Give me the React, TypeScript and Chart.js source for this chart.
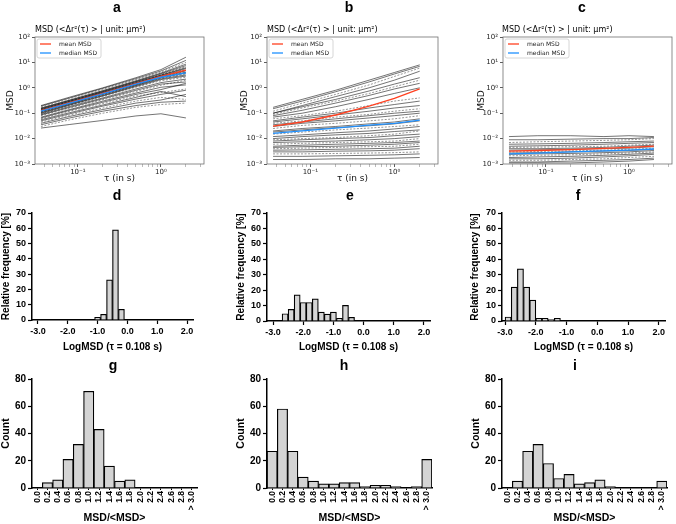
import React, { useEffect, useRef } from 'react';
import { Chart, registerables } from 'chart.js';
Chart.register(...registerables);

// ---------------- data ----------------
const TAU = [0.036, 0.08, 0.2, 0.5, 1.0, 2.0];
const MSD_X_TICKS = [0.04, 0.05, 0.06, 0.07, 0.08, 0.09, 0.1, 0.2, 0.3, 0.4, 0.5, 0.6, 0.7, 0.8, 0.9, 1, 2, 3];
const MSD_X_LABEL_VALUES = [0.1, 1];
const MSD_X_LABELS = ['10⁻¹', '10⁰'];
const MSD_Y_TICKS = [0.001, 0.01, 0.1, 1, 10, 100];
const MSD_Y_LABELS = ['10⁻³', '10⁻²', '10⁻¹', '10⁰', '10¹', '10²'];

const A_MEAN = [0.125, 0.26, 0.6, 1.45, 2.8, 5.0];
const A_MEDIAN = [0.12, 0.25, 0.58, 1.4, 2.6, 3.9];
const A_TRACKS = [
  [0.2, 0.43, 1.0, 2.5, 5.2, 16],
  [0.19, 0.4, 0.95, 2.3, 4.6, 12],
  [0.175, 0.37, 0.88, 2.1, 4.2, 10],
  [0.16, 0.33, 0.78, 1.9, 3.8, 8.5],
  [0.155, 0.32, 0.75, 1.8, 3.6, 7.5],
  [0.15, 0.31, 0.72, 1.75, 3.4, 6.8],
  [0.145, 0.3, 0.7, 1.7, 3.2, 6.2],
  [0.14, 0.29, 0.68, 1.6, 3.1, 5.8],
  [0.135, 0.28, 0.65, 1.55, 3.0, 5.4],
  [0.13, 0.27, 0.63, 1.5, 2.9, 5.0],
  [0.125, 0.26, 0.6, 1.45, 2.8, 4.7],
  [0.12, 0.25, 0.58, 1.4, 2.7, 4.4],
  [0.118, 0.245, 0.57, 1.35, 2.6, 4.1],
  [0.115, 0.24, 0.55, 1.3, 2.5, 3.8],
  [0.11, 0.23, 0.53, 1.25, 2.4, 3.5],
  [0.105, 0.22, 0.5, 1.2, 2.25, 3.2],
  [0.1, 0.21, 0.48, 1.12, 2.1, 2.9],
  [0.095, 0.2, 0.45, 1.05, 1.9, 2.6],
  [0.09, 0.185, 0.4, 0.9, 1.6, 2.2],
  [0.085, 0.17, 0.37, 0.8, 1.4, 1.7],
  [0.08, 0.16, 0.34, 0.72, 1.25, 2.0],
  [0.07, 0.14, 0.3, 0.62, 1.05, 1.3],
  [0.065, 0.13, 0.27, 0.55, 0.85, 1.5],
  [0.06, 0.12, 0.24, 0.48, 0.65, 0.9],
  [0.055, 0.105, 0.21, 0.42, 0.72, 0.45],
  [0.05, 0.095, 0.19, 0.36, 0.55, 0.8],
  [0.045, 0.085, 0.16, 0.3, 0.42, 0.35],
  [0.04, 0.075, 0.14, 0.25, 0.33, 0.55],
  [0.035, 0.065, 0.12, 0.2, 0.27, 0.3],
  [0.03, 0.055, 0.1, 0.17, 0.22, 0.25],
  [0.026, 0.036, 0.052, 0.078, 0.095, 0.065],
];

const B_MEAN = [0.031, 0.045, 0.085, 0.19, 0.38, 0.9];
const B_MEDIAN = [0.016, 0.02, 0.026, 0.034, 0.04, 0.053];
const B_TRACKS = [
  [0.17, 0.35, 0.8, 2.0, 4.0, 8.0],
  [0.15, 0.3, 0.7, 1.7, 3.5, 7.0],
  [0.12, 0.25, 0.55, 1.3, 2.8, 6.0],
  [0.1, 0.2, 0.45, 1.0, 2.0, 4.5],
  [0.1, 0.18, 0.35, 0.75, 1.4, 2.5],
  [0.09, 0.16, 0.3, 0.6, 1.1, 2.0],
  [0.08, 0.13, 0.25, 0.5, 0.9, 1.5],
  [0.07, 0.1, 0.18, 0.35, 0.6, 1.0],
  [0.06, 0.08, 0.12, 0.2, 0.3, 0.4],
  [0.05, 0.07, 0.1, 0.16, 0.22, 0.3],
  [0.045, 0.06, 0.085, 0.12, 0.16, 0.2],
  [0.04, 0.05, 0.07, 0.09, 0.12, 0.15],
  [0.035, 0.045, 0.06, 0.08, 0.1, 0.12],
  [0.03, 0.04, 0.05, 0.065, 0.08, 0.1],
  [0.025, 0.033, 0.04, 0.05, 0.06, 0.08],
  [0.02, 0.025, 0.03, 0.038, 0.045, 0.06],
  [0.018, 0.022, 0.027, 0.032, 0.038, 0.05],
  [0.015, 0.018, 0.022, 0.026, 0.03, 0.035],
  [0.012, 0.014, 0.017, 0.02, 0.024, 0.03],
  [0.01, 0.012, 0.014, 0.016, 0.019, 0.022],
  [0.009, 0.01, 0.011, 0.013, 0.015, 0.02],
  [0.008, 0.009, 0.01, 0.011, 0.013, 0.015],
  [0.007, 0.0075, 0.008, 0.009, 0.01, 0.012],
  [0.006, 0.0065, 0.007, 0.0075, 0.008, 0.01],
  [0.005, 0.0055, 0.006, 0.0065, 0.007, 0.008],
  [0.0045, 0.0048, 0.005, 0.0055, 0.006, 0.007],
  [0.004, 0.0042, 0.0045, 0.0048, 0.005, 0.006],
  [0.0035, 0.0036, 0.0038, 0.004, 0.0042, 0.005],
  [0.003, 0.003, 0.0032, 0.0033, 0.0035, 0.004],
  [0.0025, 0.0025, 0.0026, 0.0027, 0.0028, 0.003],
  [0.002, 0.002, 0.0021, 0.0022, 0.0023, 0.0025],
  [0.0015, 0.0015, 0.0016, 0.0016, 0.0017, 0.0018],
];

const C_MEAN = [0.0032, 0.0034, 0.0037, 0.0041, 0.0045, 0.0051];
const C_MEDIAN = [0.0025, 0.0027, 0.003, 0.0033, 0.0035, 0.0039];
const C_TRACKS = [
  [0.012, 0.013, 0.013, 0.012, 0.013, 0.012],
  [0.009, 0.009, 0.0095, 0.01, 0.01, 0.011],
  [0.007, 0.0075, 0.008, 0.0085, 0.009, 0.01],
  [0.006, 0.0062, 0.0065, 0.007, 0.0075, 0.008],
  [0.005, 0.0052, 0.0055, 0.006, 0.0065, 0.007],
  [0.0045, 0.0046, 0.0048, 0.005, 0.0055, 0.006],
  [0.004, 0.004, 0.0042, 0.0045, 0.005, 0.0055],
  [0.0035, 0.0036, 0.0038, 0.004, 0.0042, 0.0048],
  [0.003, 0.0031, 0.0033, 0.0035, 0.0038, 0.0042],
  [0.0027, 0.0028, 0.003, 0.0032, 0.0034, 0.0038],
  [0.0024, 0.0025, 0.0026, 0.0028, 0.003, 0.0034],
  [0.0021, 0.0022, 0.0023, 0.0025, 0.0027, 0.003],
  [0.0018, 0.0019, 0.002, 0.0022, 0.0024, 0.0027],
  [0.0016, 0.0016, 0.0017, 0.0019, 0.0021, 0.0024],
  [0.0014, 0.0014, 0.0015, 0.0016, 0.0018, 0.002],
  [0.0012, 0.0012, 0.0013, 0.0014, 0.0015, 0.0017],
  [0.0011, 0.0011, 0.0011, 0.0012, 0.0013, 0.0015],
];

const LOG_TICKS = [-3, -2, -1, 0, 1, 2];
const D_BINS = [-1.0, -0.8, -0.6, -0.4, -0.2];
const D_FREQ = [1.7, 3.7, 26.3, 59, 7];
const E_BINS = [-2.6, -2.4, -2.2, -2.0, -1.8, -1.6, -1.4, -1.2, -1.0, -0.8, -0.6, -0.4];
const E_FREQ = [4.7, 7.5, 17, 12, 12, 14.4, 5.8, 4.5, 5.8, 1.7, 10.1, 2.4];
const F_BINS = [-2.9, -2.7, -2.5, -2.3, -2.1, -1.9, -1.7, -1.5, -1.3];
const F_FREQ = [2.6, 22, 33.8, 22, 13.6, 1.7, 1.7, 0.9, 1.7];

const RATIO_LABELS = ['0.0', '0.2', '0.4', '0.6', '0.8', '1.0', '1.2', '1.4', '1.6', '1.8', '2.0', '2.2', '2.4', '2.6', '2.8', '> 3.0'];
const G_COUNT = [0, 4, 6, 21, 32, 71, 43, 16, 5, 6, 0, 0, 0, 0, 0, 0];
const H_COUNT = [27, 58, 27, 8, 5, 3, 3, 4, 4, 1, 2, 2, 1, 0, 1, 21];
const I_COUNT = [0, 5, 27, 32, 18, 7, 10, 3, 4, 6, 1, 0, 0, 0, 0, 5];

// ---------------- helpers ----------------
type Rect = { l: number; t: number; r: number; b: number };
type TextItem = { text: string; x: number; y: number; font: string; align?: CanvasTextAlign };

const SANS = '"Liberation Sans", Arial, sans-serif';
const DEJA = '"DejaVu Sans", sans-serif';
const bold = (size: number) => ({ family: SANS, size, weight: 'bold' as const });

function textPlugin(items: TextItem[]) {
  return {
    id: 'figText',
    afterDraw(chart: any) {
      const ctx = chart.ctx;
      ctx.save();
      items.forEach((it) => {
        ctx.font = it.font;
        ctx.fillStyle = '#000';
        ctx.textAlign = it.align || 'center';
        ctx.textBaseline = 'alphabetic';
        ctx.fillText(it.text, it.x, it.y);
      });
      ctx.restore();
    },
  };
}

const framePlugin = {
  id: 'frame',
  afterDraw(chart: any) {
    const { left, top, right, bottom } = chart.chartArea;
    const ctx = chart.ctx;
    ctx.save();
    ctx.strokeStyle = '#707070';
    ctx.lineWidth = 0.8;
    ctx.strokeRect(left, top, right - left, bottom - top);
    ctx.restore();
  },
};

// inset legend (matplotlib style) for the first two datasets (mean / median)
const insetLegendPlugin = {
  id: 'insetLegend',
  afterDraw(chart: any) {
    const { left, top } = chart.chartArea;
    const ctx = chart.ctx;
    const sets = chart.data.datasets.slice(0, 2);
    ctx.save();
    ctx.font = '6px "DejaVu Sans", sans-serif';
    const textW = Math.max(...sets.map((s: any) => ctx.measureText(s.label).width));
    const bx = left + 2, by = top + 2;
    const bw = 22 + textW + 4, bh = 19;
    ctx.fillStyle = 'rgba(255,255,255,0.85)';
    ctx.strokeStyle = '#cccccc';
    ctx.lineWidth = 0.8;
    ctx.beginPath();
    ctx.roundRect(bx, by, bw, bh, 2);
    ctx.fill();
    ctx.stroke();
    sets.forEach((s: any, k: number) => {
      const y = by + 5 + k * 9;
      ctx.strokeStyle = s.borderColor;
      ctx.lineWidth = 1.3;
      ctx.beginPath();
      ctx.moveTo(bx + 3, y);
      ctx.lineTo(bx + 14, y);
      ctx.stroke();
      ctx.fillStyle = '#222';
      ctx.textAlign = 'left';
      ctx.textBaseline = 'middle';
      ctx.fillText(s.label, bx + 22, y);
    });
    ctx.restore();
  },
};

function fixSize(size: number, horizontal: boolean) {
  return (s: any) => {
    if (horizontal) s.height = size; else s.width = size;
    s.paddingLeft = 0; s.paddingRight = 0; s.paddingTop = 0; s.paddingBottom = 0;
  };
}

function pad(cell: Rect, area: Rect, yW: number, xH: number) {
  return {
    left: area.l - cell.l - yW,
    top: area.t - cell.t,
    right: cell.r - area.r,
    bottom: cell.b - area.b - xH,
  };
}

function msdConfig(tracks: number[][], mean: number[], median: number[], cell: Rect, area: Rect, yW: number, xH: number, texts: TextItem[]) {
  const pts = (arr: number[]) => arr.map((y, i) => ({ x: TAU[i], y }));
  const datasets: any[] = [
    { label: 'mean MSD', data: pts(mean), borderColor: '#ff4020', backgroundColor: '#ff4020', borderWidth: 1.3, pointRadius: 0, order: 1 },
    { label: 'median MSD', data: pts(median), borderColor: '#1e90ff', backgroundColor: '#1e90ff', borderWidth: 1.3, pointRadius: 0, order: 0 },
    ...tracks.map((t, k) => ({
      label: 'track ' + (k + 1),
      data: pts(t),
      borderColor: k % 3 === 2 ? 'rgba(0,0,0,0.6)' : 'rgba(0,0,0,0.78)',
      borderWidth: 0.7,
      borderDash: k % 3 === 2 ? [2, 1.5] : [],
      pointRadius: 0,
      order: 2,
    })),
  ];
  return {
    type: 'line',
    data: { datasets },
    options: {
      responsive: false,
      animation: false,
      devicePixelRatio: 1,
      layout: { padding: pad(cell, area, yW, xH) },
      plugins: {
        tooltip: { enabled: false },
        legend: { display: false },
      },
      scales: {
        x: {
          type: 'logarithmic',
          min: 0.0305,
          max: 3.3,
          afterBuildTicks: (s: any) => { s.ticks = MSD_X_TICKS.map((v) => ({ value: v, major: MSD_X_LABEL_VALUES.includes(v) })); },
          ticks: {
            autoSkip: false, maxRotation: 0, padding: 1,
            font: { family: DEJA, size: 7 }, color: '#222',
            callback: (v: any) => { const i = MSD_X_LABEL_VALUES.indexOf(Number(v)); return i >= 0 ? MSD_X_LABELS[i] : ''; },
          },
          grid: {
            display: true, drawOnChartArea: false, drawTicks: true, tickLength: 3,
            tickColor: (c: any) => (c.tick && c.tick.major ? '#333' : '#777'),
            tickWidth: (c: any) => (c.tick && c.tick.major ? 0.8 : 0.5),
          },
          border: { display: false },
          title: { display: true, text: 'τ (in s)', font: { family: DEJA, size: 9 }, color: '#111', padding: 0 },
          afterFit: fixSize(xH, true),
        },
        y: {
          type: 'logarithmic',
          min: 0.001,
          max: 100,
          afterBuildTicks: (s: any) => { s.ticks = MSD_Y_TICKS.map((v) => ({ value: v, major: true })); },
          ticks: {
            autoSkip: false, padding: 2,
            font: { family: DEJA, size: 7 }, color: '#222',
            callback: (v: any) => { const i = MSD_Y_TICKS.indexOf(Number(v)); return i >= 0 ? MSD_Y_LABELS[i] : ''; },
          },
          grid: { display: true, drawOnChartArea: false, drawTicks: true, tickLength: 3, tickColor: '#333', tickWidth: 0.8 },
          border: { display: false },
          title: { display: true, text: 'MSD', font: { family: DEJA, size: 9 }, color: '#111', padding: 0 },
          afterFit: fixSize(yW, false),
        },
      },
    },
    plugins: [framePlugin, insetLegendPlugin, textPlugin(texts)],
  };
}

function axisCommon() {
  return {
    grid: { display: true, drawOnChartArea: false, drawTicks: true, tickLength: 4, tickColor: '#000', tickWidth: 1.2, offset: false },
    border: { display: true, color: '#000', width: 1.5 },
  };
}

function logHistConfig(bins: number[], freq: number[], xmin: number, cell: Rect, area: Rect, yW: number, xH: number, texts: TextItem[]) {
  return {
    type: 'bar',
    data: {
      datasets: [{
        label: 'Relative frequency',
        data: bins.map((x, i) => ({ x, y: freq[i] })),
        backgroundColor: '#d4d4d4', borderColor: '#000', borderWidth: 1.2,
        barPercentage: 1, categoryPercentage: 1,
      }],
    },
    options: {
      responsive: false, animation: false, devicePixelRatio: 1,
      layout: { padding: pad(cell, area, yW, xH) },
      plugins: { legend: { display: false }, tooltip: { enabled: false } },
      scales: {
        x: {
          type: 'linear', min: xmin, max: 2.2, offset: false,
          afterBuildTicks: (s: any) => { s.ticks = LOG_TICKS.map((v) => ({ value: v })); },
          ticks: { autoSkip: false, maxRotation: 0, padding: 2, font: bold(9), color: '#000', callback: (v: any) => Number(v).toFixed(1) },
          ...axisCommon(),
          title: { display: true, text: 'LogMSD (τ = 0.108 s)', font: bold(10), color: '#000', padding: 0 },
          afterFit: fixSize(xH, true),
        },
        y: {
          min: 0, max: 70,
          ticks: { stepSize: 10, padding: 2, font: bold(9), color: '#000' },
          ...axisCommon(),
          title: { display: true, text: 'Relative frequency [%]', font: bold(10), color: '#000', padding: 0 },
          afterFit: fixSize(yW, false),
        },
      },
    },
    plugins: [textPlugin(texts)],
  };
}

function ratioHistConfig(counts: number[], cell: Rect, area: Rect, yW: number, xH: number, texts: TextItem[]) {
  return {
    type: 'bar',
    data: {
      labels: RATIO_LABELS,
      datasets: [{
        label: 'Count', data: counts,
        backgroundColor: '#d4d4d4', borderColor: '#000', borderWidth: 1.2,
        barPercentage: 1, categoryPercentage: 1,
      }],
    },
    options: {
      responsive: false, animation: false, devicePixelRatio: 1,
      layout: { padding: pad(cell, area, yW, xH) },
      plugins: { legend: { display: false }, tooltip: { enabled: false } },
      scales: {
        x: {
          type: 'category', offset: true,
          ticks: { autoSkip: false, minRotation: 90, maxRotation: 90, padding: 1, font: bold(8.5), color: '#000' },
          ...axisCommon(),
          grid: { display: true, drawOnChartArea: false, drawTicks: true, tickLength: 2, tickColor: '#000', tickWidth: 1, offset: false },
          title: { display: true, text: 'MSD/<MSD>', font: bold(10.5), color: '#000', padding: 0 },
          afterFit: fixSize(xH, true),
        },
        y: {
          min: 0, max: 80,
          ticks: { stepSize: 20, padding: 2, font: bold(10), color: '#000' },
          ...axisCommon(),
          title: { display: true, text: 'Count', font: bold(10.5), color: '#000', padding: 0 },
          afterFit: fixSize(yW, false),
        },
      },
    },
    plugins: [textPlugin(texts)],
  };
}

const LETTER_FONT = 'bold 14px "Liberation Sans", Arial, sans-serif';
const MSD_TITLE = 'MSD (<Δr²(τ) > | unit: μm²)';
const MSD_TITLE_FONT = '8px "DejaVu Sans", sans-serif';

type PanelSpec = { cell: Rect; make: () => any };

const PANELS: PanelSpec[] = (() => {
  const a: Rect = { l: 0, t: 0, r: 225, b: 188 };
  const b: Rect = { l: 225, t: 0, r: 450, b: 188 };
  const c: Rect = { l: 450, t: 0, r: 676, b: 188 };
  const d: Rect = { l: 0, t: 188, r: 225, b: 356 };
  const e: Rect = { l: 225, t: 188, r: 450, b: 356 };
  const f: Rect = { l: 450, t: 188, r: 676, b: 356 };
  const g: Rect = { l: 0, t: 356, r: 225, b: 524 };
  const h: Rect = { l: 225, t: 356, r: 450, b: 524 };
  const i: Rect = { l: 450, t: 356, r: 676, b: 524 };
  return [
    { cell: a, make: () => msdConfig(A_TRACKS, A_MEAN, A_MEDIAN, a, { l: 35, t: 37, r: 204, b: 164 }, 30, 20, [
      { text: 'a', x: 117, y: 11.5, font: LETTER_FONT },
      { text: MSD_TITLE, x: 35, y: 32, font: MSD_TITLE_FONT, align: 'left' },
    ]) },
    { cell: b, make: () => msdConfig(B_TRACKS, B_MEAN, B_MEDIAN, b, { l: 267, t: 37, r: 438, b: 164 }, 28, 20, [
      { text: 'b', x: 124, y: 11.5, font: LETTER_FONT },
      { text: MSD_TITLE, x: 42, y: 32, font: MSD_TITLE_FONT, align: 'left' },
    ]) },
    { cell: c, make: () => msdConfig(C_TRACKS, C_MEAN, C_MEDIAN, c, { l: 503, t: 37, r: 672, b: 164 }, 27, 20, [
      { text: 'c', x: 132, y: 11.5, font: LETTER_FONT },
      { text: MSD_TITLE, x: 52, y: 32, font: MSD_TITLE_FONT, align: 'left' },
    ]) },
    { cell: d, make: () => logHistConfig(D_BINS, D_FREQ, -3.2, d, { l: 32, t: 213, r: 193, b: 320 }, 32, 33, [
      { text: 'd', x: 117, y: 12, font: LETTER_FONT },
    ]) },
    { cell: e, make: () => logHistConfig(E_BINS, E_FREQ, -3.2, e, { l: 267, t: 213, r: 430, b: 321 }, 32, 32, [
      { text: 'e', x: 125, y: 12, font: LETTER_FONT },
    ]) },
    { cell: f, make: () => logHistConfig(F_BINS, F_FREQ, -3.1, f, { l: 502, t: 213, r: 665, b: 321 }, 33, 32, [
      { text: 'f', x: 128, y: 12, font: LETTER_FONT },
    ]) },
    { cell: g, make: () => ratioHistConfig(G_COUNT, g, { l: 32, t: 379, r: 197, b: 488 }, 32, 36, [
      { text: 'g', x: 113, y: 14, font: LETTER_FONT },
    ]) },
    { cell: h, make: () => ratioHistConfig(H_COUNT, h, { l: 267, t: 379, r: 432, b: 488 }, 32, 36, [
      { text: 'h', x: 119, y: 14, font: LETTER_FONT },
    ]) },
    { cell: i, make: () => ratioHistConfig(I_COUNT, i, { l: 502, t: 379, r: 667, b: 488 }, 32, 36, [
      { text: 'i', x: 125, y: 14, font: LETTER_FONT },
    ]) },
  ];
})();

function Panel({ spec }: { spec: PanelSpec }) {
  const ref = useRef<HTMLCanvasElement>(null);
  useEffect(() => {
    if (!ref.current) return;
    const chart = new Chart(ref.current, spec.make());
    return () => chart.destroy();
  }, [spec]);
  const w = spec.cell.r - spec.cell.l;
  const h = spec.cell.b - spec.cell.t;
  return (
    <canvas
      ref={ref}
      width={w}
      height={h}
      style={{ position: 'absolute', left: spec.cell.l, top: spec.cell.t, width: w, height: h }}
    />
  );
}

export default function App() {
  return (
    <div style={{ position: 'absolute', left: 0, top: 0, width: 676, height: 524, background: '#fff', overflow: 'hidden' }}>
      {PANELS.map((p, k) => (
        <Panel key={k} spec={p} />
      ))}
    </div>
  );
}
